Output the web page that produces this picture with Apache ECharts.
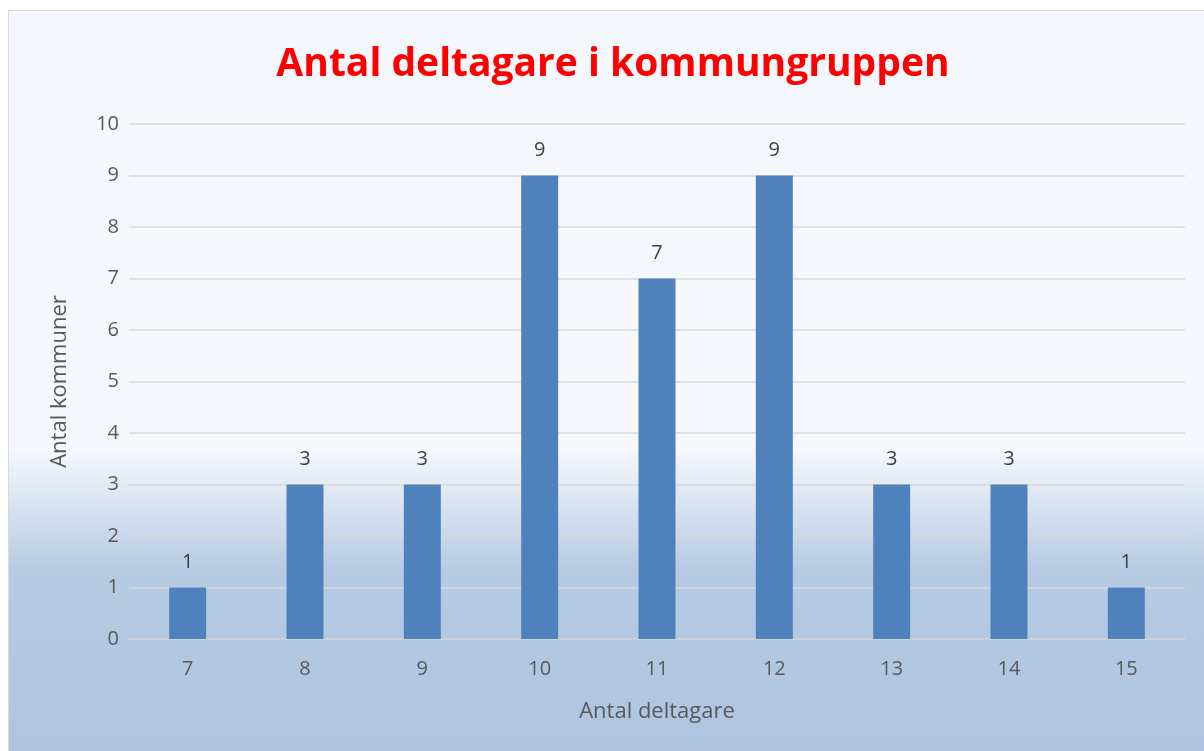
<!DOCTYPE html>
<html><head><meta charset="utf-8">
<script src="https://cdn.jsdelivr.net/npm/echarts@6/dist/echarts.min.js"></script>
<style>
html,body{margin:0;padding:0;background:#fff;width:1204px;height:751px;overflow:hidden}
#c{position:absolute;left:8px;top:10px;width:1210px;height:760px;border:1px solid #d9d9d9;box-sizing:border-box}
</style></head><body>
<div id="c"></div>
<script>
const categories = ['7','8','9','10','11','12','13','14','15'];
const values = [1,3,3,9,7,9,3,3,1];
const titleText = 'Antal deltagare i kommungruppen';
const xName = 'Antal deltagare';
const yName = 'Antal kommuner';

const chart = echarts.init(document.getElementById('c'));
chart.setOption({
  backgroundColor: new echarts.graphic.LinearGradient(0,0,0,1,[
    {offset:0,color:'#f4f7fb'},
    {offset:0.58,color:'#f4f7fb'},
    {offset:0.74,color:'#b6cae3'},
    {offset:1,color:'#adc4e0'}
  ]),
  textStyle:{fontFamily:'Open Sans'},
  title:{text:titleText,left:'center',top:29,textStyle:{color:'#ff0000',fontSize:39,fontWeight:'bold',fontFamily:'Open Sans'}},
  grid:{left:120,top:113,width:1056,height:515},
  xAxis:{type:'category',data:categories,
    name:xName,nameLocation:'middle',nameGap:62,
    nameTextStyle:{color:'#595959',fontSize:22},
    axisLine:{lineStyle:{color:'#d0d0d0',width:1.5}},
    axisTick:{show:false},
    axisLabel:{color:'#595959',fontSize:20,margin:20}},
  yAxis:{type:'value',min:0,max:10,interval:1,
    name:yName,nameLocation:'middle',nameGap:58,
    nameTextStyle:{color:'#595959',fontSize:22},
    axisLine:{show:false},axisTick:{show:false},
    axisLabel:{color:'#595959',fontSize:20,margin:10},
    splitLine:{lineStyle:{color:'#d9d9d9',width:1.5}}},
  series:[{type:'bar',data:values,barWidth:'31.5%',
    itemStyle:{color:'#4f81bd'},
    label:{show:true,position:'top',distance:15,color:'#404040',fontSize:20}}]
});
</script>
</body></html>
